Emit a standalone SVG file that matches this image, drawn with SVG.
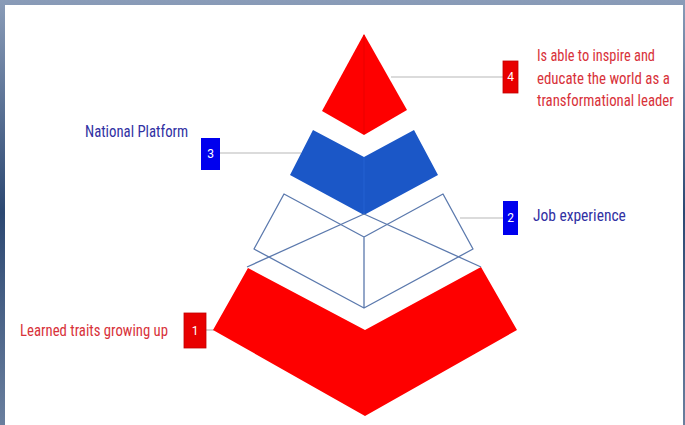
<svg xmlns="http://www.w3.org/2000/svg" width="685" height="425" viewBox="0 0 685 425">
<defs>
<linearGradient id="frame" x1="0" y1="0" x2="0" y2="1">
<stop offset="0" stop-color="#8a9cb8"/>
<stop offset="0.5" stop-color="#2c4872"/>
<stop offset="1" stop-color="#6a7f9e"/>
</linearGradient>
</defs>
<style>
.lbl{font-family:"Roboto Condensed","Liberation Sans Narrow",Roboto,"Liberation Sans",sans-serif;font-size:17px}
.red{fill:#d8323a}
.blu{fill:#3131a3}
.num{font-family:Roboto,"Liberation Sans",sans-serif;font-size:12px;fill:#fff;text-anchor:middle}
.wire{fill:none;stroke:#5b79ad;stroke-width:1.3;stroke-linejoin:round}
.conn{stroke:#b8b8b8;stroke-width:1.2;fill:none}
</style>
<rect x="0" y="0" width="685" height="425" fill="url(#frame)"/>
<rect x="5" y="5" width="678" height="420" fill="#ffffff"/>

<g id="connectors">
<line class="conn" x1="391" y1="77" x2="503" y2="77"/>
<line class="conn" x1="220" y1="153" x2="301" y2="153"/>
<line class="conn" x1="460" y1="218" x2="503" y2="218"/>
<line class="conn" x1="206" y1="330" x2="214" y2="330"/>
</g>

<g id="level4">
<polygon points="364,34 322,111 364,135 407,110" fill="#fe0000"/>
<line x1="364" y1="35" x2="364" y2="134" stroke="#e80000" stroke-width="1"/>
<rect x="503" y="61" width="15" height="32" fill="#e80000" stroke="#c00000" stroke-width="0.8"/>
<text class="num" x="510.5" y="81">4</text>
<g transform="translate(537,0) scale(0.8,1)">
<text class="lbl red" x="0" y="61" textLength="147.5" lengthAdjust="spacingAndGlyphs">Is able to inspire and</text>
<text class="lbl red" x="0" y="84" textLength="166" lengthAdjust="spacingAndGlyphs">educate the world as a</text>
<text class="lbl red" x="0" y="106" textLength="171" lengthAdjust="spacingAndGlyphs">transformational leader</text>
</g>
</g>

<g id="level3">
<polygon points="313,130 364,157 414,130 438,175 364,215 290,175" fill="#1b57c7"/>
<line x1="364" y1="157" x2="364" y2="214" stroke="#2563d2" stroke-width="1"/>
<rect x="201" y="138" width="19" height="32" fill="#0000ee"/>
<text class="num" x="210.5" y="158">3</text>
<g transform="translate(85,0) scale(0.8,1)">
<text class="lbl blu" x="0" y="137" textLength="129" lengthAdjust="spacingAndGlyphs">National Platform</text>
</g>
</g>

<g id="level2">
<polyline class="wire" points="364,237 284,194 254,249 364,308 473,249 443,194 364,237 364,308"/>
<line class="wire" x1="247" y1="267" x2="364" y2="214"/>
<line class="wire" x1="481" y1="267" x2="364" y2="214"/>
<rect x="503" y="201" width="15" height="34" fill="#0000ee"/>
<text class="num" x="510.5" y="222">2</text>
<g transform="translate(533,0) scale(0.8,1)">
<text class="lbl blu" x="0" y="221" textLength="116" lengthAdjust="spacingAndGlyphs">Job experience</text>
</g>
</g>

<g id="level1">
<polygon points="248,268 365,330 481,267 517,330 365,416 213,330" fill="#fe0000"/>
<rect x="184" y="313" width="22" height="35" fill="#e80000" stroke="#c00000" stroke-width="0.8"/>
<text class="num" x="195" y="335">1</text>
<g transform="translate(20,0) scale(0.8,1)">
<text class="lbl red" x="0" y="336" textLength="185" lengthAdjust="spacingAndGlyphs">Learned traits growing up</text>
</g>
</g>
</svg>
